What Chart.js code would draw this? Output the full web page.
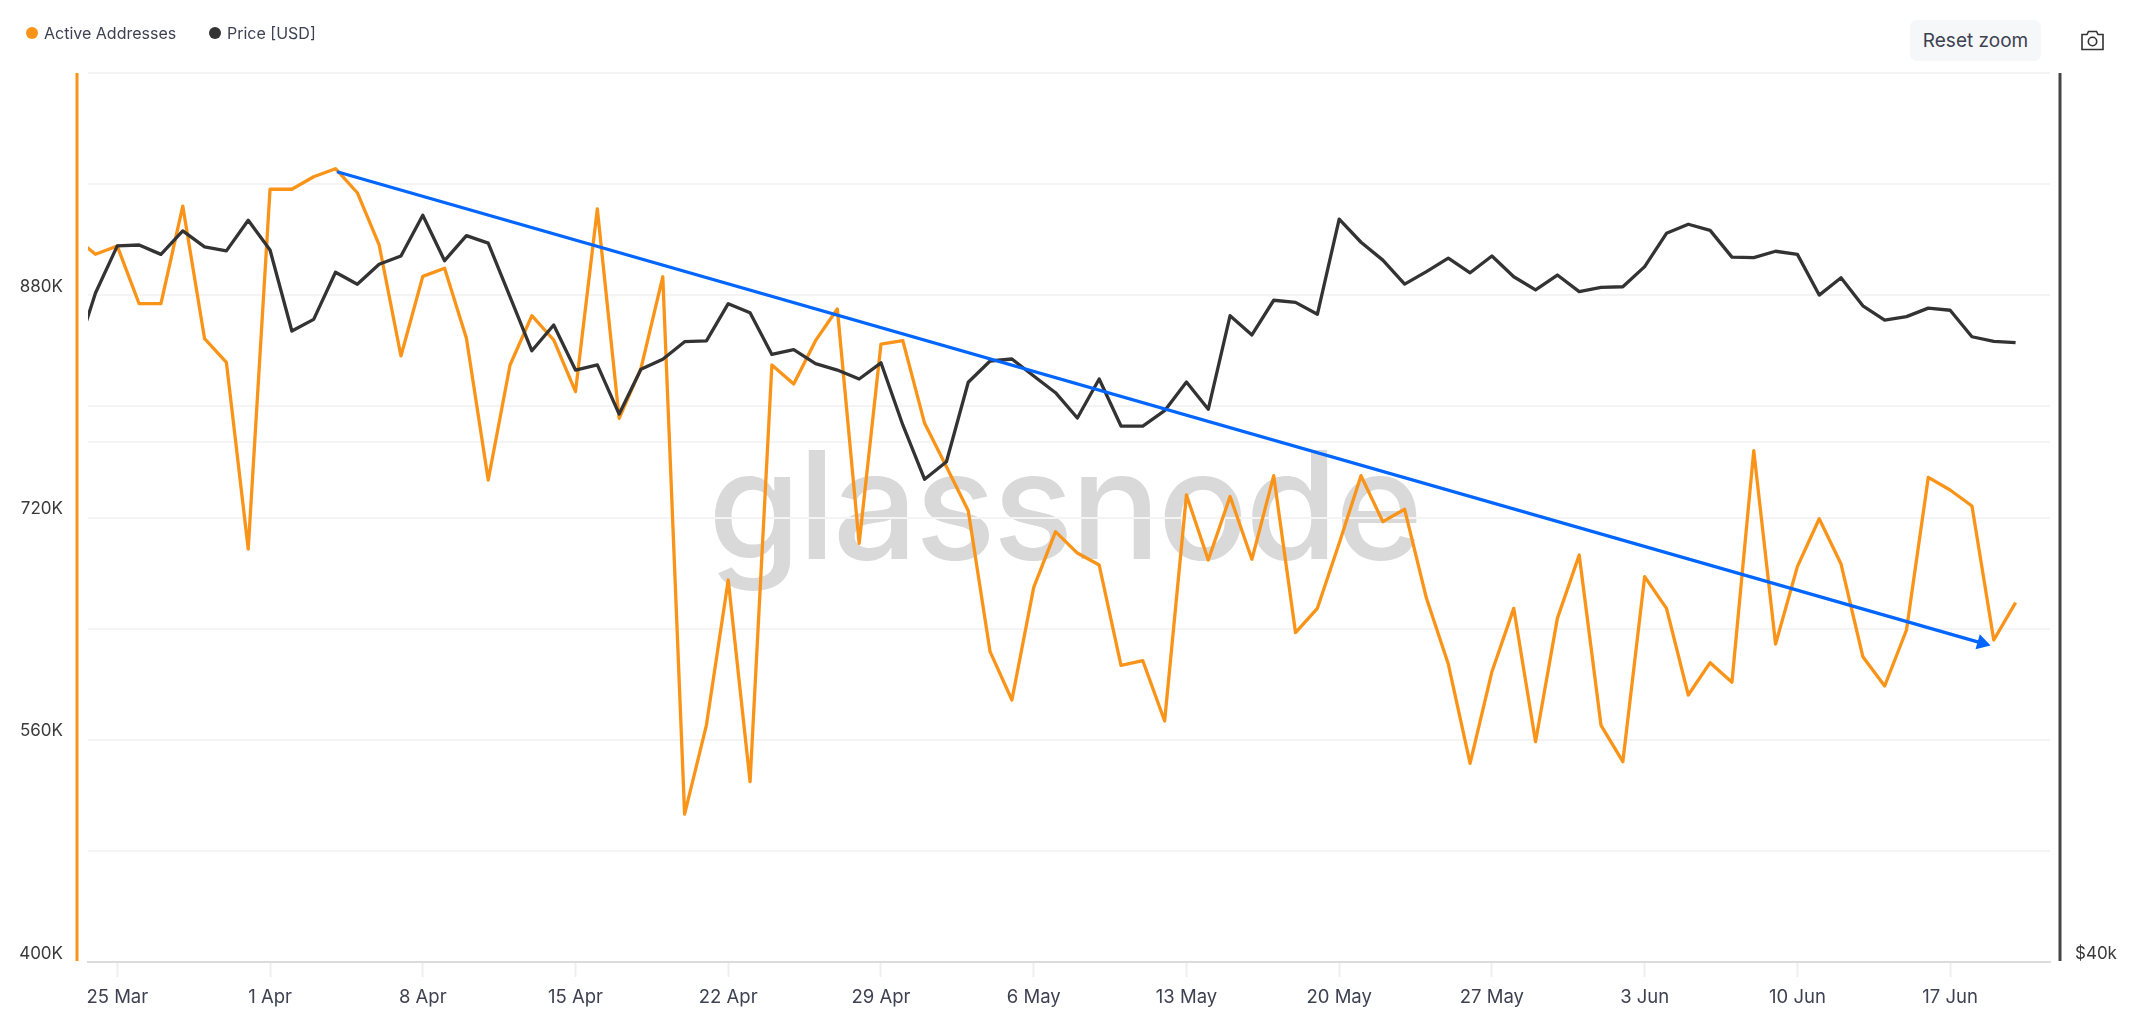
<!DOCTYPE html>
<html>
<head>
<meta charset="utf-8">
<title>Active Addresses vs Price</title>
<script src="https://cdn.jsdelivr.net/npm/chart.js@4/dist/chart.umd.min.js"></script>
<style>
    html, body { margin: 0; padding: 0; background: #fff; font-family: Inter, sans-serif; }
    #wrap { position: relative; width: 2136px; height: 1026px; overflow: hidden; }
    #watermark { position: absolute; left: 708px; top: 405px; font-size: 150px; line-height: 200px; font-weight: 500; letter-spacing: -3px; color: #d9d9d9; }
    canvas { position: absolute; left: 0; top: 0; }
    .legend { position: absolute; top: 23px; font-size: 16px; line-height: 20px; color: #3d4152; white-space: nowrap; }
    .legend i { position: absolute; left: -18px; top: 4px; width: 12px; height: 12px; border-radius: 50%; }
    #reset { position: absolute; left: 1910px; top: 20px; width: 131px; height: 41px; border-radius: 7px; background: #f6f7f9; color: #3d4152; font-size: 19px; line-height: 41px; text-align: center; }
    #camera { position: absolute; left: 2080px; top: 29px; }
</style>
</head>
<body>
<div id="wrap">
    <div id="watermark">glassnode</div>
    <canvas id="chart" width="2136" height="1026"></canvas>
    <div class="legend" style="left:44px"><i style="background:#fa9419"></i>Active Addresses</div>
    <div class="legend" style="left:227px"><i style="background:#333333"></i>Price [USD]</div>
    <div id="reset">Reset zoom</div>
    <svg id="camera" width="25" height="22" viewBox="0 0 25 22" fill="none" stroke="#333" stroke-width="1.6">
        <path d="M2 5.5h5l1.5-3h8l1.5 3h5v15h-21z"/>
        <circle cx="12.5" cy="12.5" r="4.2"/>
    </svg>
</div>
<script>
// days are counted from 25 Mar, first point is just outside the left edge
const firstDay = -2;

const tickDays = [0, 7, 14, 21, 28, 35, 42, 49, 56, 63, 70, 77, 84];
const tickLabels = ["25 Mar", "1 Apr", "8 Apr", "15 Apr", "22 Apr", "29 Apr", "6 May", "13 May", "20 May", "27 May", "3 Jun", "10 Jun", "17 Jun"];

const activeAddresses = [
    922600, 909500, 915400, 873900, 873900, 944200, 848700, 831700, 697300, 956300,
    956300, 965300, 971100, 953800, 916200, 836300, 893600, 899400, 849000, 747000,
    829800, 865300, 847800, 810600, 942100, 791400, 827400, 893300, 506500, 570600,
    675000, 529800, 829800, 816100, 847300, 870100, 701400, 844900, 847300, 787800,
    756600, 724900, 623400, 588600, 669700, 709800, 694400, 685800, 613600, 616900,
    573500, 736200, 689400, 735100, 689900, 750100, 637100, 654600, 701400, 750100,
    717000, 725900, 661800, 614500, 543000, 609000, 654600, 558600, 647400, 693000,
    570400, 544200, 677400, 654600, 592200, 615500, 601400, 768100, 628900, 684600,
    719100, 686500, 619800, 598700, 639000, 748900, 739800, 728300, 631800, 658700
];

const priceUsd = [
    63910, 67390, 69910, 69960, 69450, 70730, 69860, 69640, 71320, 69690,
    65420, 66020, 68490, 67850, 68920, 69360, 71600, 69110, 70470, 70060,
    67190, 64420, 65730, 63460, 63720, 61320, 63500, 64000, 64880, 64920,
    66830, 66360, 64240, 64480, 63780, 63460, 63020, 63820, 60800, 58280,
    59080, 62860, 63910, 64010, 63170, 62350, 61130, 63020, 60750, 60750,
    61480, 62870, 61550, 66210, 65220, 67010, 66900, 66280, 71380, 70110,
    69140, 67860, 68520, 69250, 68460, 69360, 68250, 67550, 68340, 67460,
    67690, 67720, 68790, 70600, 71100, 70760, 69300, 69270, 69620, 69450,
    67280, 68200, 66720, 65980, 66160, 66600, 66490, 65130, 64900, 64830
];

// the hand drawn arrow over the chart, start and end
const trendDays = [10.07, 85.46];
const trendValues = [968900, 629600];

const addressTickLabels = { 400000: "400K", 560000: "560K", 720000: "720K", 880000: "880K" };
const priceTicks = [40000, 60000, 80000];
const priceTickLabels = { 40000: "$40k" };

const orange = "#fa9419";
const dark = "#333333";
const blue = "#0066ff";
const textColor = "#3d4152";

function toPoints(values) {
    return values.map((v, i) => ({ x: firstDay + i, y: v }));
}

// the coloured bars standing next to the plot
const axisBars = {
    id: "axisBars",
    afterDraw(chart) {
        const c = chart.ctx, a = chart.chartArea;
        c.save();
        c.lineWidth = 3;
        c.strokeStyle = orange;
        c.beginPath();
        c.moveTo(a.left - 11, a.top);
        c.lineTo(a.left - 11, a.bottom - 1);
        c.stroke();
        c.strokeStyle = "#444444";
        c.beginPath();
        c.moveTo(a.right + 10, a.top);
        c.lineTo(a.right + 10, a.bottom - 1);
        c.stroke();
        c.restore();
    }
};

new Chart(document.getElementById("chart"), {
    type: "line",
    plugins: [axisBars],
    data: {
        datasets: [
            {
                label: "Trend",
                data: trendDays.map((d, i) => ({ x: d, y: trendValues[i] })),
                yAxisID: "y",
                borderColor: blue,
                borderWidth: 3.3,
                pointStyle: "triangle",
                pointRadius: [0, 9],
                pointRotation: 106,
                pointBackgroundColor: blue,
                pointBorderWidth: 0,
                order: 0
            },
            {
                label: "Price [USD]",
                data: toPoints(priceUsd),
                yAxisID: "price",
                borderColor: dark,
                borderWidth: 3.3,
                pointRadius: 0,
                borderJoinStyle: "round",
                order: 1
            },
            {
                label: "Active Addresses",
                data: toPoints(activeAddresses),
                yAxisID: "y",
                borderColor: orange,
                borderWidth: 3.3,
                pointRadius: 0,
                borderJoinStyle: "round",
                order: 2
            }
        ]
    },
    options: {
        responsive: false,
        animation: false,
        devicePixelRatio: 1,
        events: [],
        layout: { padding: { top: 73 } },
        plugins: { legend: { display: false }, tooltip: { enabled: false } },
        scales: {
            x: {
                type: "linear",
                min: -1.343,
                max: 88.577,
                afterBuildTicks(scale) { scale.ticks = tickDays.map(v => ({ value: v })); },
                afterFit(scale) { scale.height = 64; },
                grid: { drawOnChartArea: false, tickLength: 15, tickColor: "#eeeeee", tickWidth: 2 },
                border: { color: "#dcdcdc", width: 2 },
                ticks: {
                    autoSkip: false,
                    maxRotation: 0,
                    padding: 9,
                    color: textColor,
                    font: { family: "Inter", size: 18.5 },
                    callback: v => tickLabels[tickDays.indexOf(v)]
                }
            },
            y: {
                position: "left",
                min: 400000,
                max: 1040000,
                afterFit(scale) { scale.width = 88; },
                grid: {
                    drawTicks: false,
                    lineWidth: 2,
                    color: ctx => ctx.tick.value === 1040000 ? "#e8e8e8" : "#f4f4f4"
                },
                border: { display: false },
                ticks: {
                    stepSize: 80000,
                    padding: 25,
                    color: "#3a3a3a",
                    font: { family: "Inter", size: 17, lineHeight: 1 },
                    callback: v => addressTickLabels[v] ? [addressTickLabels[v], ""] : ""
                }
            },
            price: {
                type: "logarithmic",
                position: "right",
                min: 40000,
                max: 80000,
                afterBuildTicks(scale) { scale.ticks = priceTicks.map(v => ({ value: v })); },
                afterFit(scale) { scale.width = 86; },
                grid: { drawTicks: false, lineWidth: 2, color: "#f4f4f4" },
                border: { display: false },
                ticks: {
                    padding: 25,
                    color: "#3a3a3a",
                    font: { family: "Inter", size: 17, lineHeight: 1 },
                    callback: v => priceTickLabels[v] ? [priceTickLabels[v], ""] : ""
                }
            }
        }
    }
});
</script>
</body>
</html>
